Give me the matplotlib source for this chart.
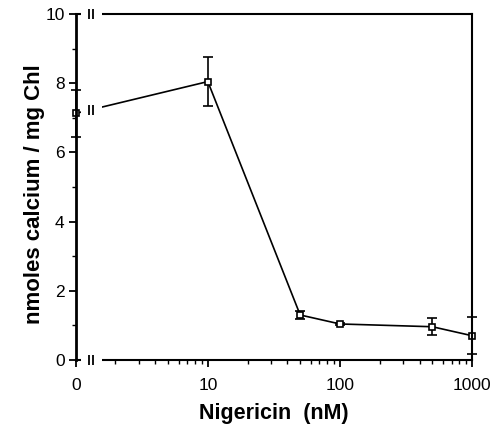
import numpy as np
import matplotlib
matplotlib.use('Agg')
import matplotlib.pyplot as plt
from matplotlib.patches import Rectangle
from matplotlib.ticker import FixedLocator, NullFormatter

plt.rcParams['font.family'] = ['Liberation Sans', 'DejaVu Sans']

# data
nigericin = [0, 10, 50, 100, 500, 1000]          # nM
calcium = [7.13, 8.05, 1.30, 1.04, 0.96, 0.70]  # nmoles / mg Chl
calcium_err = [0.67, 0.70, 0.11, 0.03, 0.24, 0.53]
xtick_labels = ['0', '10', '100', '1000']

# 0 nM is drawn at the position of 1 on the log axis (broken axis)
xpos = np.array([1.0 if v == 0 else float(v) for v in nigericin])
gap = (1.10, 1.57)       # break region on the x axis
marks = [1.26, 1.345]    # the "II" break marks

fig = plt.figure(figsize=(4.98, 4.29), dpi=100)
ax = fig.add_axes([0.152, 0.161, 0.796, 0.806])
ax.set_xscale('log')

ax.errorbar(xpos, calcium, yerr=calcium_err, color='black', lw=1.2,
            marker='s', ms=5, mfc='white', mec='black', mew=1.2,
            capsize=3.5, elinewidth=1.2, capthick=1.2, zorder=2, clip_on=False)

ax.set_xlim(1, 1000)
ax.set_ylim(0, 10)

for s in ax.spines.values():
    s.set_linewidth(1.5)
ax.spines['left'].set_linewidth(2)

ax.xaxis.set_major_locator(FixedLocator([1, 10, 100, 1000]))
ax.set_xticklabels(xtick_labels)
ax.xaxis.set_minor_locator(FixedLocator([k * 10 ** d for d in range(3) for k in range(2, 10)]))
ax.xaxis.set_minor_formatter(NullFormatter())
ax.set_yticks([0, 2, 4, 6, 8, 10])
ax.set_yticks([1, 3, 5, 7, 9], minor=True)
ax.tick_params(which='major', direction='out', length=5, width=1.3, labelsize=12.5)
ax.tick_params(axis='x', which='major', pad=8)
ax.tick_params(axis='y', which='major', pad=3)
ax.tick_params(which='minor', direction='out', length=3, width=1.0)

# white out the break region (spines and data line)
ax.add_patch(Rectangle((gap[0], -0.02), gap[1] - gap[0], 1.04,
                       transform=ax.get_xaxis_transform(), facecolor='white',
                       edgecolor='none', zorder=3, clip_on=False))

# "II" marks on top / bottom axis and on the data line
line_y = np.interp(np.log10(np.mean(marks)), np.log10(xpos[:2]), calcium[:2])
for yy in [0, 10, line_y]:
    ax.plot(marks, [yy, yy], ls='none', marker='|', ms=7, mew=1.3,
            color='black', zorder=4, clip_on=False)

ax.set_xlabel('Nigericin  (nM)', fontsize=15.5, fontweight='bold', labelpad=7)
ax.set_ylabel('nmoles calcium / mg Chl', fontsize=16, fontweight='bold')
ax.yaxis.set_label_coords(-0.078, 0.48)

plt.savefig('out.png', dpi=100)
